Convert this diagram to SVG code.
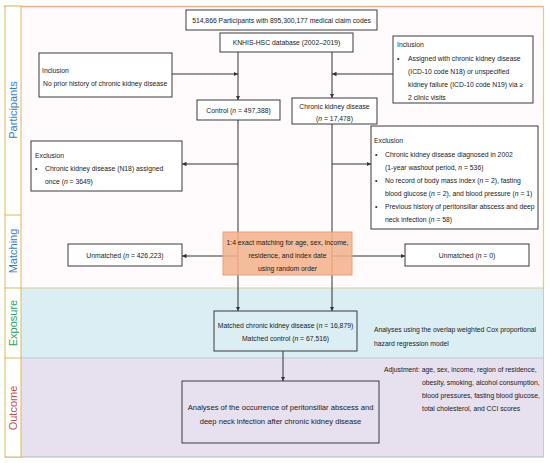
<svg xmlns="http://www.w3.org/2000/svg" width="550" height="463" viewBox="0 0 550 463">
<style>
text{font-family:"Liberation Sans",Arial,sans-serif;font-size:6.8px;fill:#1a1a1a}
.box{fill:#fff;stroke:#3a3a3a;stroke-width:1}
.c{text-anchor:middle}
.lbl{font-size:11px;text-anchor:middle}
.ln{stroke:#333;stroke-width:1;fill:none}
</style>
<defs>
<marker id="ah" viewBox="0 0 6 6" refX="6" refY="3" markerWidth="4.5" markerHeight="4.5" orient="auto"><path d="M0,0L6,3L0,6z" fill="#333"/></marker>
</defs>
<g id="bands">
<rect x="5" y="6" width="539" height="209" fill="#fffafb"/>
<rect x="5" y="215" width="539" height="73" fill="#fffafb"/>
<rect x="5" y="288" width="539" height="70" fill="#daeef4"/>
<rect x="5" y="358" width="539" height="99" fill="#e7e0ee"/>
<line x1="4" y1="6.5" x2="544" y2="6.5" stroke="#f5b08c" stroke-width="1.5"/>
<line x1="543.5" y1="6" x2="543.5" y2="288" stroke="#e2cf7a" stroke-width="1.2"/>
<line x1="5" y1="288" x2="544" y2="288" stroke="#d8d08a" stroke-width="1.2"/>
<line x1="5" y1="358" x2="544" y2="358" stroke="#b9c9d6" stroke-width="1"/>
<line x1="543.5" y1="288" x2="543.5" y2="457" stroke="#c8c8d8" stroke-width="1"/>
<line x1="5" y1="457" x2="544" y2="457" stroke="#b8b4c2" stroke-width="1.2"/>
<rect x="5" y="6" width="16" height="451" fill="#fff" stroke="#d9b95a" stroke-width="1"/>
<line x1="5" y1="215" x2="21" y2="215" stroke="#d9b95a"/>
<line x1="5" y1="288" x2="21" y2="288" stroke="#d9b95a"/>
<line x1="5" y1="358" x2="21" y2="358" stroke="#d9b95a"/>
<text class="lbl" transform="translate(16.5,110) rotate(-90)" style="fill:#3a7bc8">Participants</text>
<text class="lbl" transform="translate(16.5,251) rotate(-90)" style="fill:#3a7bc8">Matching</text>
<text class="lbl" transform="translate(16.5,323) rotate(-90)" style="fill:#2aa060">Exposure</text>
<text class="lbl" transform="translate(16.5,408) rotate(-90)" style="fill:#c0504d">Outcome</text>
</g>
<g id="connectors">
<line class="ln" x1="238" y1="52" x2="238" y2="100" marker-end="url(#ah)"/>
<line class="ln" x1="172" y1="74" x2="238" y2="74" marker-end="url(#ah)"/>
<line class="ln" x1="332" y1="52" x2="332" y2="98" marker-end="url(#ah)"/>
<line class="ln" x1="393" y1="74" x2="332" y2="74" marker-end="url(#ah)"/>
<line class="ln" x1="238" y1="120" x2="238" y2="311" marker-end="url(#ah)"/>
<line class="ln" x1="332" y1="124" x2="332" y2="311" marker-end="url(#ah)"/>
<line class="ln" x1="238" y1="164" x2="182" y2="164" marker-end="url(#ah)"/>
<line class="ln" x1="332" y1="164" x2="371" y2="164" marker-end="url(#ah)"/>
<line class="ln" x1="238" y1="256" x2="182" y2="256" marker-end="url(#ah)"/>
<line class="ln" x1="332" y1="256" x2="405" y2="256" marker-end="url(#ah)"/>
<line class="ln" x1="283" y1="351" x2="283" y2="381" marker-end="url(#ah)"/>
</g>
<g id="n-total"><rect class="box" x="186" y="10" width="191" height="20"/><text class="c" x="281.5" y="22.5">514,866 Participants with 895,300,177 medical claim codes</text></g>
<g id="n-db"><rect class="box" x="220" y="33" width="133" height="19"/><text class="c" x="286.5" y="45">KNHIS-HSC database (2002–2019)</text></g>
<g id="n-incl-left"><rect class="box" x="39" y="53" width="133" height="44"/><text x="42" y="73">Inclusion</text><text x="43" y="86">No prior history of chronic kidney disease</text></g>
<g id="n-incl-right"><rect class="box" x="393" y="36" width="140" height="67"/><text x="397" y="47">Inclusion</text><text x="397" y="61">•</text><text x="408" y="61">Assigned with chronic kidney disease</text><text x="408" y="74">(ICD-10 code N18) or unspecified</text><text x="408" y="87">kidney failure (ICD-10 code N19) via  ≥</text><text x="408" y="100">2 clinic visits</text></g>
<g id="n-control"><rect class="box" x="197" y="100" width="83" height="20"/><text class="c" x="238.5" y="113">Control (<tspan font-style="italic">n</tspan> = 497,388)</text></g>
<g id="n-ckd"><rect class="box" x="292" y="98" width="85" height="26"/><text class="c" x="334.5" y="108.5">Chronic kidney disease</text><text class="c" x="334.5" y="121">(<tspan font-style="italic">n</tspan> = 17,478)</text></g>
<g id="n-excl-left"><rect class="box" x="31" y="141" width="151" height="50"/><text x="35" y="158">Exclusion</text><text x="35" y="171">•</text><text x="45" y="171">Chronic kidney disease (N18) assigned</text><text x="45" y="184">once (<tspan font-style="italic">n</tspan> = 3649)</text></g>
<g id="n-excl-right"><rect class="box" x="371" y="126" width="167" height="103"/><text x="374" y="143">Exclusion</text><text x="375" y="157">•</text><text x="385" y="157">Chronic kidney disease diagnosed in 2002</text><text x="385" y="170">(1-year washout period, <tspan font-style="italic">n</tspan> = 536)</text><text x="375" y="183">•</text><text x="385" y="183">No record of  body mass index (<tspan font-style="italic">n</tspan> = 2), fasting</text><text x="385" y="196">blood glucose  (<tspan font-style="italic">n</tspan> = 2), and blood pressure (<tspan font-style="italic">n</tspan>  = 1)</text><text x="375" y="209">•</text><text x="385" y="209">Previous history of peritonsillar abscess and deep</text><text x="385" y="222">neck infection (<tspan font-style="italic">n</tspan> = 58)</text></g>
<g id="n-matching"><rect x="223" y="232" width="129" height="43" fill="#f3b38c" fill-opacity="0.88" stroke="#eaa27c" stroke-width="1"/><text class="c" x="287.5" y="244.5">1:4 exact matching for age, sex, income,</text><text class="c" x="287.5" y="257.5">residence, and index date</text><text class="c" x="287.5" y="270.5">using random order</text></g>
<g id="n-unm-left"><rect class="box" x="68" y="244" width="114" height="22"/><text class="c" x="125" y="258">Unmatched (<tspan font-style="italic">n</tspan> = 426,223)</text></g>
<g id="n-unm-right"><rect class="box" x="405" y="244" width="124" height="22"/><text class="c" x="467" y="258">Unmatched (<tspan font-style="italic">n</tspan> = 0)</text></g>
<g id="n-matched"><rect x="214" y="311" width="143" height="40" fill="#daeef4" stroke="#3a3a3a" stroke-width="1"/><text class="c" x="285.5" y="328">Matched chronic kidney disease (<tspan font-style="italic">n</tspan> = 16,879)</text><text class="c" x="285.5" y="341">Matched control (<tspan font-style="italic">n</tspan> = 67,516)</text></g>
<g id="n-analysis"><text x="374" y="332">Analyses using the overlap weighted Cox proportional</text><text x="374" y="346">hazard regression model</text></g>
<g id="n-outcome"><rect x="182" y="381" width="197" height="62" fill="#e7e0ee" stroke="#3a3a3a" stroke-width="1"/><text class="c" x="280.5" y="409.5" style="font-size:7.6px">Analyses of the occurrence of peritonsillar abscess and</text><text class="c" x="280.5" y="423.5" style="font-size:7.6px">deep neck infection after chronic kidney disease</text></g>
<g id="n-adjust"><text x="384" y="371.5">Adjustment:  age, sex, income, region of residence,</text><text x="422" y="384.5">obesity, smoking, alcohol consumption,</text><text x="422" y="397.5">blood pressures, fasting blood glucose,</text><text x="422" y="410.5">total cholesterol, and CCI scores</text></g>
</svg>
